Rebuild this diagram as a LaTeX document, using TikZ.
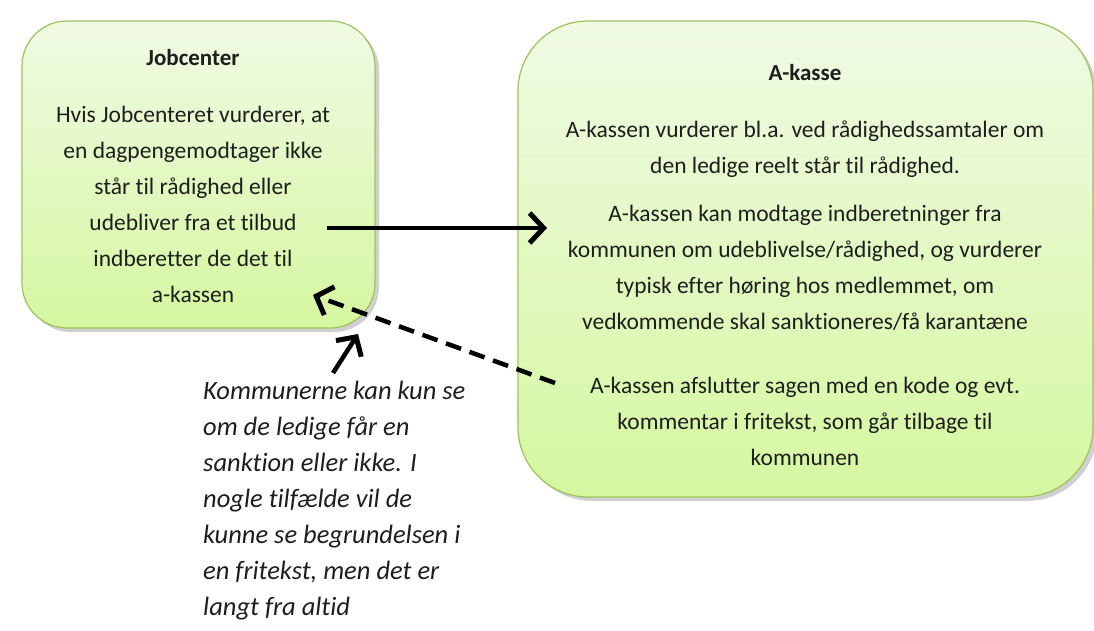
\documentclass[tikz,border=0pt]{standalone}
\usepackage{fontspec}
\setmainfont{Carlito}[Ligatures=NoCommon]
\usetikzlibrary{arrows.meta,shadows}
\definecolor{boxtop}{HTML}{F0FAE4}
\definecolor{boxbot}{HTML}{D5F7A0}
\definecolor{boxline}{HTML}{9CC45A}
\definecolor{txt}{HTML}{1E1E1E}
\tikzset{
  greenbox/.style={draw=boxline, line width=1.2pt, top color=boxtop, bottom color=boxbot,
    drop shadow={shadow xshift=4pt, shadow yshift=-4pt, opacity=0.3, fill=black!60}},
  para/.style={align=center, font=\fontsize{23.5}{36}\selectfont, text=txt, inner sep=0pt, anchor=base},
  ttl/.style={font=\fontsize{23}{36}\selectfont\bfseries, text=txt, inner sep=0pt, anchor=base},
  note/.style={align=left, font=\fontsize{26.5}{36}\selectfont\itshape, text=txt, inner sep=0pt, anchor=base west},
  arr/.style={line width=4.5pt, -{Straight Barb[length=14pt,width=30pt,line width=5pt]}},
}
\begin{document}
\begin{tikzpicture}[x=1pt,y=-1pt]
\useasboundingbox (0,0) rectangle (1094,630);
\fill[white] (0,0) rectangle (1094,630);
\draw[greenbox, rounded corners=45pt] (22,21) rectangle (375,328);
\draw[greenbox, rounded corners=70pt] (518,21) rectangle (1093,497);
\node[ttl] (jt) at (193,65) {Jobcenter};
\node[para] (jp) at (193,302) {Hvis Jobcenteret vurderer, at\\en dagpengemodtager ikke\\står til rådighed eller\\udebliver fra et tilbud\\indberetter de det til\\a-kassen};
\node[ttl] (at) at (805,80) {A-kasse};
\node[para] (ap1) at (805,173) {A-kassen vurderer bl.a. ved rådighedssamtaler om\\den ledige reelt står til rådighed.};
\node[para] (ap2) at (805,329) {A-kassen kan modtage indberetninger fra\\kommunen om udeblivelse/rådighed, og vurderer\\typisk efter høring hos medlemmet, om\\vedkommende skal sanktioneres/få karantæne};
\node[para] (ap3) at (805,465) {A-kassen afslutter sagen med en kode og evt.\\kommentar i fritekst, som går tilbage til\\kommunen};
\node[note] (nt) at (203,615) {Kommunerne kan kun se\\om de ledige får en\\sanktion eller ikke. I\\nogle tilfælde vil de\\kunne se begrundelsen i\\en fritekst, men det er\\langt fra altid};
\coordinate (s1) at (327,228);
\coordinate (e1) at (547,228);
\coordinate (s2) at (555,383);
\coordinate (e2) at (313,295);
\coordinate (s3) at (333,373);
\coordinate (e3) at (358,334);
\draw[arr] (s1) -- (e1);
\draw[arr, dash pattern=on 16pt off 9pt] (s2) -- (e2);
\draw[arr] (s3) -- (e3);
\end{tikzpicture}
\end{document}
